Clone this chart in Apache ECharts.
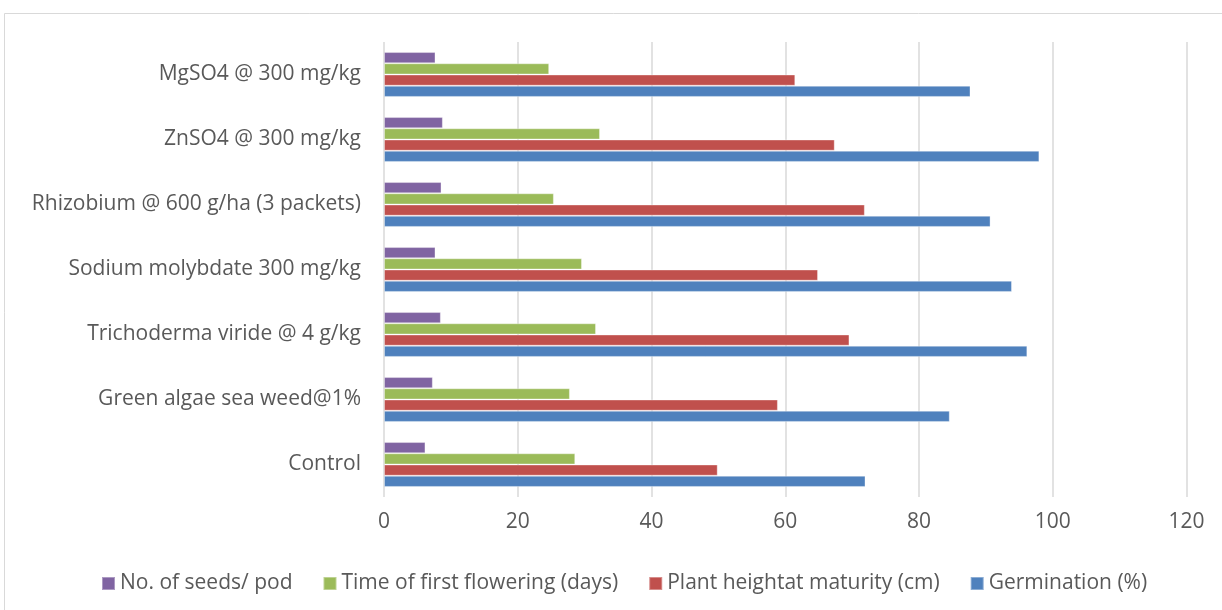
<!DOCTYPE html>
<html>
<head>
<meta charset="utf-8">
<title>Treatment effects</title>
<script src="https://cdn.jsdelivr.net/npm/echarts@6/dist/echarts.min.js"></script>
<style>
  html, body { margin: 0; padding: 0; background: #ffffff; }
  #chart { width: 1222px; height: 610px; }
</style>
</head>
<body>
<div id="chart"></div>
<script>
// Treatments, listed bottom to top
const treatments = [
  'Control',
  'Green algae sea weed@1%',
  'Trichoderma viride @ 4 g/kg',
  'Sodium molybdate 300 mg/kg',
  'Rhizobium @ 600 g/ha (3 packets)',
  'ZnSO4 @ 300 mg/kg',
  'MgSO4 @ 300 mg/kg'
];

const seedsPerPod     = [6.2, 7.3, 8.5, 7.7, 8.6, 8.8, 7.7];
const daysToFlowering = [28.6, 27.8, 31.7, 29.6, 25.4, 32.3, 24.7];
const plantHeight     = [49.9, 58.9, 69.6, 64.9, 71.9, 67.4, 61.5];
const germination     = [72.0, 84.6, 96.2, 93.9, 90.7, 98.0, 87.7];

const seriesNames = [
  'No. of seeds/ pod',
  'Time of first flowering (days)',
  'Plant heightat maturity (cm)',
  'Germination (%)'
];
const seriesColors = ['#8064A2', '#9BBB59', '#C0504D', '#4F81BD'];
const seriesValues = [seedsPerPod, daysToFlowering, plantHeight, germination];

const xTicks = { min: 0, max: 120, interval: 20 };

const font = '"Open Sans", "Liberation Sans", sans-serif';
const textColor = '#595959';

const chart = echarts.init(document.getElementById('chart'), null, { renderer: 'canvas' });

chart.setOption({
  animation: false,
  backgroundColor: '#ffffff',
  textStyle: { fontFamily: font },
  graphic: [{
    type: 'rect',
    shape: { x: 4.5, y: 13.5, width: 1300, height: 700 },
    style: { fill: 'none', stroke: '#d9d9d9', lineWidth: 1 },
    silent: true,
    z: -10
  }],
  legend: {
    data: seriesNames,
    left: 101,
    top: 573,
    padding: 0,
    itemWidth: 13,
    itemHeight: 13,
    itemGap: 30,
    icon: 'rect',
    textStyle: { color: textColor, fontSize: 21, fontFamily: font }
  },
  grid: {
    left: 384,
    right: 35.5,
    top: 42,
    bottom: 113,
    containLabel: false
  },
  xAxis: {
    type: 'value',
    min: xTicks.min,
    max: xTicks.max,
    interval: xTicks.interval,
    axisLine: { show: false },
    axisTick: { show: false },
    splitLine: { show: true, lineStyle: { color: '#d9d9d9', width: 1.5 } },
    axisLabel: { color: textColor, fontSize: 21, margin: 15, fontFamily: font }
  },
  yAxis: {
    type: 'category',
    data: treatments,
    axisLine: { show: false },
    axisTick: { show: false },
    axisLabel: { color: textColor, fontSize: 21, margin: 23, fontFamily: font }
  },
  series: seriesNames.map((name, i) => ({
    name: name,
    type: 'bar',
    data: seriesValues[i],
    barGap: '0%',
    barCategoryGap: '31%',
    itemStyle: {
      color: seriesColors[i],
      borderColor: 'rgba(255,255,255,0.35)',
      borderWidth: 1
    }
  }))
});
</script>
</body>
</html>
